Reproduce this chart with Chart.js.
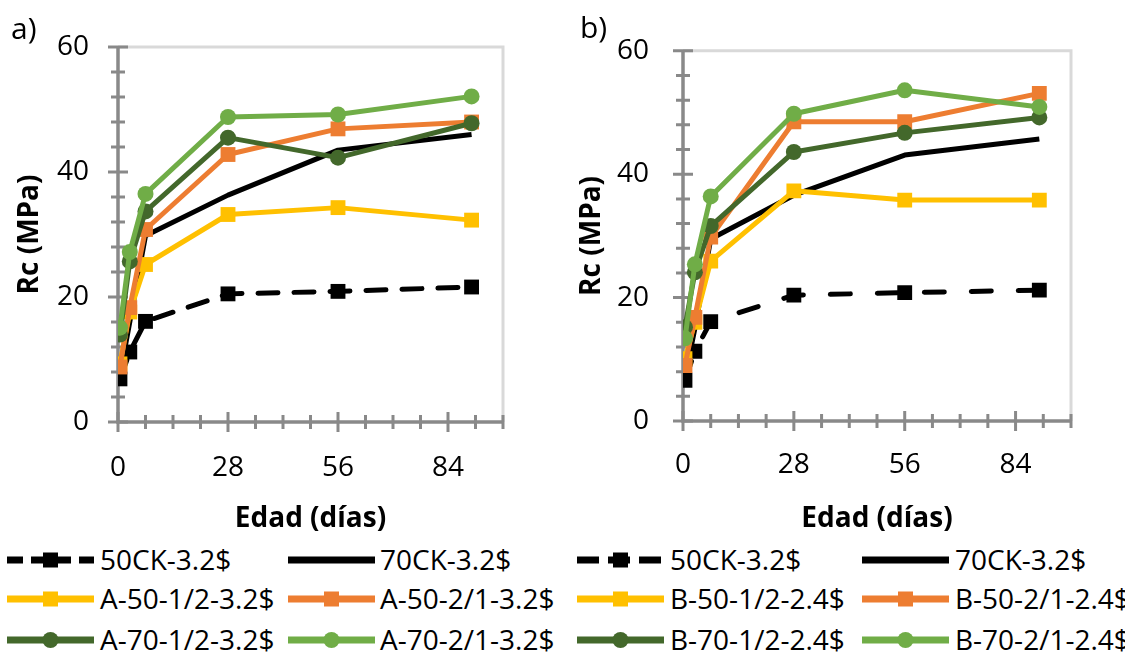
<!DOCTYPE html>
<html>
<head>
<meta charset="utf-8">
<script src="https://cdn.jsdelivr.net/npm/chart.js@4.4.0/dist/chart.umd.min.js"></script>
<style>
  body { margin: 0; background: #fff; width: 1125px; height: 654px; overflow: hidden; position: relative; font-family: "Open Sans", sans-serif; color: #000; }
  canvas { position: absolute; top: 0; }
  #chartA { left: 0; }
  #chartB { left: 560px; }
  .tag { position: absolute; font-size: 30px; line-height: 30px; }
  .legText { position: absolute; font-size: 28px; line-height: 28px; white-space: nowrap; }
  .legLine { position: absolute; }
</style>
</head>
<body>
<canvas id="chartA" width="560" height="540"></canvas>
<canvas id="chartB" width="565" height="540"></canvas>
<div class="tag" style="left:11px;top:13px">a)</div>
<div class="tag" style="left:580px;top:12px">b)</div>
<div id="legend"></div>
<script>
// edad de ensayo (días)
const agesA = [0.5, 3, 7, 28, 56, 90];
const agesB = [0.5, 3, 7, 28, 56, 90];
const xTickValues = [0, 28, 56, 84];

// a) Rc (MPa)
const a50CK = [6.9, 11.2, 16.1, 20.5, 20.9, 21.6];
const a70CK = [7.5, 16, 29.8, 36.3, 43.5, 46];
const aA50_12 = [9.3, 17.6, 25.2, 33.2, 34.3, 32.3];
const aA50_21 = [8.8, 18.3, 30.8, 42.8, 46.9, 48.0];
const aA70_12 = [14.0, 25.7, 33.7, 45.5, 42.3, 47.8];
const aA70_21 = [15.1, 27.2, 36.5, 48.8, 49.2, 52.1];

// b) Rc (MPa)
const b50CK = [6.6, 11.3, 16.1, 20.4, 20.8, 21.2];
const b70CK = [7, 15, 29.5, 36.6, 43.1, 45.7];
const bB50_12 = [10.1, 16, 25.9, 37.3, 35.8, 35.8];
const bB50_21 = [9.0, 16.8, 29.8, 48.5, 48.5, 53.1];
const bB70_12 = [15.2, 24.1, 31.6, 43.6, 46.7, 49.2];
const bB70_21 = [13.4, 25.4, 36.4, 49.8, 53.6, 50.9];

const labelsA = ["50CK-3.2$", "70CK-3.2$", "A-50-1/2-3.2$", "A-50-2/1-3.2$", "A-70-1/2-3.2$", "A-70-2/1-3.2$"];
const labelsB = ["50CK-3.2$", "70CK-3.2$", "B-50-1/2-2.4$", "B-50-2/1-2.4$", "B-70-1/2-2.4$", "B-70-2/1-2.4$"];

// estilo de cada serie (mismo orden que las etiquetas)
const styles = [
  { color: "#000000", point: "rect", dashed: true },
  { color: "#000000", point: null },
  { color: "#FFC000", point: "rect" },
  { color: "#ED7D31", point: "rect" },
  { color: "#43682B", point: "circle" },
  { color: "#70AD47", point: "circle" },
];

const Y_MINOR = 4;
const X_MINOR = 7;

Chart.defaults.font.family = "'Open Sans', sans-serif";
Chart.defaults.color = "#000";

// ejes con marcas cruzadas y borde gris claro arriba/derecha
const axisCross = {
  id: "axisCross",
  beforeDatasetsDraw(chart) {
    const { ctx, chartArea: ca } = chart;
    const x = chart.scales.x;
    const y = chart.scales.y;
    ctx.save();
    ctx.strokeStyle = "#d9d9d9";
    ctx.lineWidth = 3;
    ctx.beginPath();
    ctx.moveTo(ca.left, ca.top);
    ctx.lineTo(ca.right, ca.top);
    ctx.lineTo(ca.right, ca.bottom);
    ctx.stroke();

    ctx.strokeStyle = "#898989";
    ctx.lineWidth = 3.5;
    ctx.beginPath();
    ctx.moveTo(ca.left, ca.top);
    ctx.lineTo(ca.left, ca.bottom);
    ctx.lineTo(ca.right, ca.bottom);
    ctx.stroke();

    ctx.lineWidth = 3;
    ctx.beginPath();
    for (let v = y.min; v <= y.max; v += Y_MINOR) {
      const py = y.getPixelForValue(v);
      const len = v % 20 === 0 ? 10 : 7;
      ctx.moveTo(ca.left - len, py);
      ctx.lineTo(ca.left + len, py);
    }
    for (let v = x.min; v <= x.max; v += X_MINOR) {
      const px = x.getPixelForValue(v);
      const len = v % 28 === 0 ? 10 : 7;
      ctx.moveTo(px, ca.bottom - len);
      ctx.lineTo(px, ca.bottom + len);
    }
    ctx.stroke();
    ctx.restore();
  },
};

function buildDatasets(ages, series, labels, dash) {
  return series.map((vals, i) => {
    const st = styles[i];
    return {
      label: labels[i],
      data: ages.map((d, k) => ({ x: d, y: vals[k] })),
      borderColor: st.color,
      backgroundColor: st.color,
      borderWidth: 5,
      borderDash: st.dashed ? dash : [],
      borderCapStyle: st.dashed ? "round" : "butt",
      borderJoinStyle: "round",
      pointStyle: st.point || "circle",
      pointRadius: st.point === "rect" ? 10.5 : st.point ? 8 : 0,
      pointBorderWidth: 0,
      pointHoverRadius: 0,
      tension: 0,
      order: series.length - i,
    };
  });
}

function makeChart(id, ages, series, labels, dash, box) {
  return new Chart(document.getElementById(id), {
    type: "line",
    data: { datasets: buildDatasets(ages, series, labels, dash) },
    options: {
      responsive: false,
      animation: false,
      events: [],
      layout: { padding: { top: box.top, right: box.right, left: 0, bottom: 0 } },
      plugins: { legend: { display: false }, tooltip: { enabled: false } },
      scales: {
        x: {
          type: "linear",
          min: 0,
          max: 98,
          grid: { display: false, drawTicks: false },
          border: { display: false },
          afterBuildTicks: (s) => {
            s.ticks = xTickValues.map((v) => ({ value: v }));
          },
          afterFit: (s) => {
            s.height = box.xh;
          },
          ticks: { font: { size: 28 }, padding: box.xpad, maxRotation: 0, autoSkip: false },
          title: {
            display: true,
            text: "Edad (días)",
            font: { size: 28, weight: "bold" },
            padding: { top: 0, bottom: box.xtp },
          },
        },
        y: {
          min: 0,
          max: 60,
          grid: { display: false, drawTicks: false },
          border: { display: false },
          afterFit: (s) => {
            s.width = box.yw;
          },
          ticks: { stepSize: 20, font: { size: 28 }, padding: box.ypad },
          title: {
            display: true,
            text: "Rc (MPa)",
            font: { size: 28, weight: "bold" },
            padding: { top: box.ytp, bottom: 0 },
          },
        },
      },
    },
    plugins: [axisCross],
  });
}

makeChart("chartA", agesA, [a50CK, a70CK, aA50_12, aA50_21, aA70_12, aA70_21], labelsA, [20, 16],
  { top: 47, right: 57, xh: 118, yw: 118, xpad: 29, ypad: 29, xtp: 4, ytp: 13 });
makeChart("chartB", agesB, [b50CK, b70CK, bB50_12, bB50_21, bB70_12, bB70_21], labelsB, [20, 27],
  { top: 37, right: 54, xh: 119, yw: 123, xpad: 27, ypad: 34, xtp: 4, ytp: 15 });

// leyendas
const legendRows = [560, 599, 640];
const legendBlocks = [
  { labels: labelsA, samples: [7, 288], texts: [100, 380], dash: "16 8" },
  { labels: labelsB, samples: [577, 862], texts: [670, 955], dash: "22 9" },
];
const SAMPLE_W = 87;

function sampleSvg(st, dash) {
  const h = 26, cy = 13, w = SAMPLE_W;
  let s = `<svg width="${w}" height="${h}">`;
  s += `<line x1="0" y1="${cy}" x2="${w}" y2="${cy}" stroke="${st.color}" stroke-width="7"` +
    (st.dashed ? ` stroke-dasharray="${dash}"` : "") + "/>";
  if (st.point === "rect") {
    s += `<rect x="${w / 2 - 7.5}" y="${cy - 7.5}" width="15" height="15" fill="${st.color}"/>`;
  } else if (st.point === "circle") {
    s += `<circle cx="${w / 2}" cy="${cy}" r="8" fill="${st.color}"/>`;
  }
  return s + "</svg>";
}

let html = "";
legendBlocks.forEach((blk) => {
  blk.labels.forEach((lab, i) => {
    const row = legendRows[Math.floor(i / 2)];
    const col = i % 2;
    html += `<div class="legLine" style="left:${blk.samples[col]}px;top:${row - 13}px">${sampleSvg(styles[i], blk.dash)}</div>`;
    html += `<div class="legText" style="left:${blk.texts[col]}px;top:${row - 15}px">${lab}</div>`;
  });
});
document.getElementById("legend").innerHTML = html;
</script>
</body>
</html>
